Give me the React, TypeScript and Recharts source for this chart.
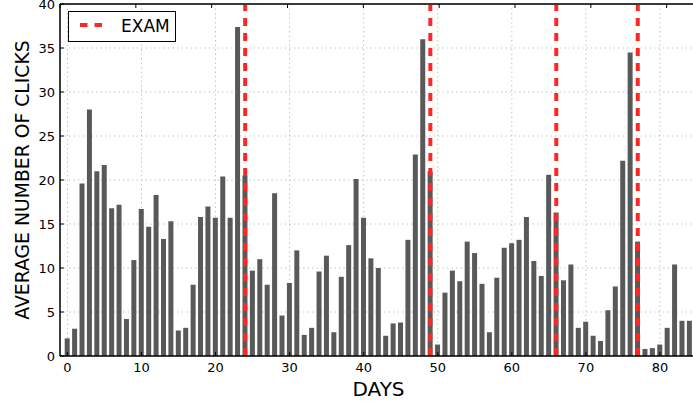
import { BarChart, Bar, XAxis, YAxis, CartesianGrid, ReferenceLine, Label } from "recharts";

// average clicks per day (day = index)
const CLICKS = [
  2.0, 3.1, 19.6, 28.0, 21.0, 21.7, 16.8, 17.2, 4.2, 10.9,
  16.7, 14.7, 18.3, 13.3, 15.3, 2.9, 3.2, 8.1, 15.8, 17.0,
  15.7, 20.4, 15.7, 37.4, 20.5, 9.7, 11.0, 8.1, 18.5, 4.6,
  8.3, 12.0, 2.4, 3.2, 9.6, 11.4, 2.7, 9.0, 12.6, 20.1,
  15.7, 11.1, 10.0, 2.3, 3.7, 3.8, 13.2, 22.9, 36.0, 21.0,
  1.3, 7.2, 9.7, 8.5, 13.0, 11.7, 8.2, 2.7, 8.9, 12.3,
  12.8, 13.2, 15.8, 10.8, 9.1, 20.6, 16.3, 8.6, 10.4, 3.2,
  3.9, 2.3, 1.7, 5.2, 7.9, 22.2, 34.5, 13.0, 0.8, 0.9,
  1.3, 3.2, 10.4, 4.0, 4.0,
];
const EXAM_DAYS = [24, 49, 66, 77];
const X_TICKS = [0, 10, 20, 30, 40, 50, 60, 70, 80];
const Y_TICKS = [0, 5, 10, 15, 20, 25, 30, 35, 40];

const data = CLICKS.map((clicks, day) => ({ day, clicks }));

const W = 710;
const H = 404;
// plot box (right edge falls just outside the 693px window, like the original)
const LEFT = 60;
const TOP = 4;
const RIGHT = 697;
const BOTTOM = 356;

const FONT = "DejaVu Sans";
const EXAM_RED = "#ff2626";

function BottomTick(props: any) {
  const { x, payload } = props;
  return (
    <g>
      <line x1={x} x2={x} y1={BOTTOM} y2={BOTTOM - 4} stroke="#000" strokeWidth={1} />
      <text x={x} y={372} textAnchor="middle" fontFamily={FONT} fontSize={13} fill="#000">
        {payload.value}
      </text>
    </g>
  );
}

function TopTick(props: any) {
  const { x } = props;
  return <line x1={x} x2={x} y1={TOP} y2={TOP + 4} stroke="#000" strokeWidth={1} />;
}

function LeftTick(props: any) {
  const { y, payload } = props;
  return (
    <g>
      <line x1={LEFT} x2={LEFT + 4} y1={y} y2={y} stroke="#000" strokeWidth={1} />
      <text x={LEFT - 5} y={y} dy="0.35em" textAnchor="end" fontFamily={FONT} fontSize={13} fill="#000">
        {payload.value}
      </text>
    </g>
  );
}

function RightTick(props: any) {
  const { y } = props;
  return <line x1={RIGHT - 4} x2={RIGHT} y1={y} y2={y} stroke="#000" strokeWidth={1} />;
}

export default function App() {
  return (
    <div
      style={{
        position: "absolute",
        left: 0,
        top: 0,
        width: 693,
        height: 404,
        overflow: "hidden",
        background: "#fff",
      }}
    >
      <BarChart
        width={W}
        height={H}
        data={data}
        margin={{ top: 0, right: 0, bottom: 0, left: 0 }}
      >
        <CartesianGrid stroke="#c4c4c4" strokeDasharray="1.5 3" />
        <XAxis
          dataKey="day"
          type="number"
          domain={[-1, 85]}
          ticks={X_TICKS}
          interval={0}
          height={H - BOTTOM}
          axisLine={{ stroke: "#000", strokeWidth: 1.5 }}
          tickLine={false}
          tick={<BottomTick />}
          allowDataOverflow
        >
          <Label
            content={() => (
              <text
                x={(LEFT + RIGHT) / 2}
                y={396}
                textAnchor="middle"
                fontFamily={FONT}
                fontSize={20}
                fill="#000"
              >
                DAYS
              </text>
            )}
          />
        </XAxis>
        <XAxis
          xAxisId="top"
          orientation="top"
          type="number"
          domain={[-1, 85]}
          ticks={X_TICKS}
          interval={0}
          height={TOP}
          axisLine={{ stroke: "#3a3a3a", strokeWidth: 2 }}
          tickLine={false}
          tick={<TopTick />}
          allowDataOverflow
        />
        <YAxis
          type="number"
          domain={[0, 40]}
          ticks={Y_TICKS}
          interval={0}
          width={LEFT}
          axisLine={{ stroke: "#000", strokeWidth: 1.5 }}
          tickLine={false}
          tick={<LeftTick />}
          allowDataOverflow
        >
          <Label
            content={() => (
              <text
                x={22}
                y={180}
                dy="0.35em"
                textAnchor="middle"
                transform="rotate(-90, 22, 180)"
                fontFamily={FONT}
                fontSize={18.8}
                fill="#000"
              >
                AVERAGE NUMBER OF CLICKS
              </text>
            )}
          />
        </YAxis>
        <YAxis
          yAxisId="right"
          orientation="right"
          type="number"
          domain={[0, 40]}
          ticks={Y_TICKS}
          interval={0}
          width={W - RIGHT}
          axisLine={{ stroke: "#000", strokeWidth: 1.5 }}
          tickLine={false}
          tick={<RightTick />}
          allowDataOverflow
        />
        <Bar dataKey="clicks" fill="#595959" barSize={5} isAnimationActive={false} />
        {EXAM_DAYS.map((d) => (
          <ReferenceLine
            key={d}
            x={d}
            stroke={EXAM_RED}
            strokeWidth={4}
            strokeDasharray="8 7"
          />
        ))}
      </BarChart>

      {/* legend box */}
      <svg
        width={108}
        height={31}
        style={{ position: "absolute", left: 68, top: 11 }}
      >
        <rect x={0.5} y={0.5} width={107} height={30} fill="#fff" stroke="#000" strokeWidth={1} />
        <line x1={12} x2={34} y1={14} y2={14} stroke={EXAM_RED} strokeWidth={4} strokeDasharray="7.5 7" />
        <text x={53} y={20.5} fontFamily={FONT} fontSize={17} fill="#000">
          EXAM
        </text>
      </svg>
    </div>
  );
}
